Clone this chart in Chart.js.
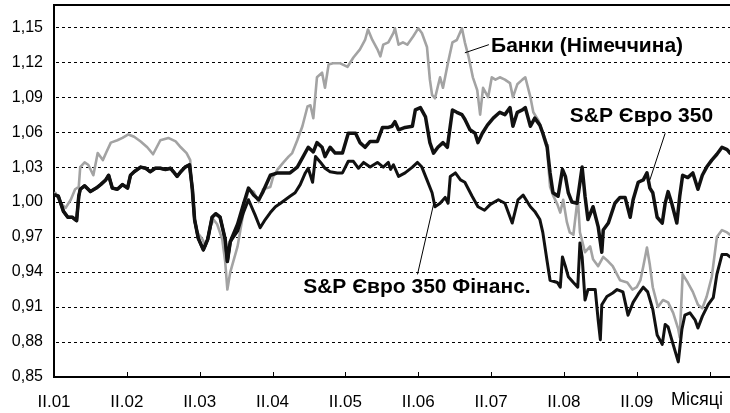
<!DOCTYPE html>
<html>
<head>
<meta charset="utf-8">
<script src="https://cdn.jsdelivr.net/npm/chart.js@4.4.1/dist/chart.umd.min.js"></script>
<style>
  html, body { margin: 0; padding: 0; background: #fff; }
  #wrap { width: 730px; height: 413px; position: relative; }
</style>
</head>
<body>
<div id="wrap"><canvas id="chart"></canvas></div>
<script>
// x = years since II.01, y = index level
var xTickLabels = ["II.01","II.02","II.03","II.04","II.05","II.06","II.07","II.08","II.09"];
var xAxisTitle = "Місяці";
var yTickValues = [0.85,0.88,0.91,0.94,0.97,1.00,1.03,1.06,1.09,1.12,1.15];

// both black lines move together until spring 2003
var sharedX = [0.02,0.06,0.13,0.19,0.25,0.31,0.34,0.36,0.42,0.50,0.58,0.64,0.71,0.75,0.80,0.87,0.94,1.01,1.05,1.10,1.19,1.26,1.32,1.39,1.46,1.53,1.60,1.64,1.69,1.74,1.80,1.86,1.90,1.93,1.98,2.05,2.11,2.17,2.22,2.28,2.35,2.38,2.42];
var sharedY = [1.006,1.005,0.992,0.987,0.987,0.984,1.005,1.011,1.014,1.009,1.012,1.015,1.019,1.023,1.012,1.011,1.015,1.012,1.023,1.026,1.030,1.029,1.026,1.029,1.029,1.028,1.029,1.026,1.022,1.026,1.030,1.032,1.011,0.985,0.969,0.959,0.968,0.987,0.990,0.987,0.968,0.949,0.966];

var spX = [2.52,2.60,2.67,2.74,2.81,2.87,2.97,3.07,3.18,3.24,3.34,3.42,3.49,3.56,3.61,3.68,3.72,3.79,3.86,3.96,4.04,4.14,4.20,4.27,4.34,4.44,4.51,4.59,4.64,4.68,4.73,4.82,4.92,4.96,5.03,5.10,5.16,5.21,5.27,5.34,5.40,5.47,5.53,5.60,5.64,5.71,5.78,5.82,5.88,5.95,6.03,6.12,6.19,6.26,6.30,6.36,6.43,6.47,6.54,6.60,6.67,6.71,6.77,6.81,6.85,6.92,6.98,7.02,7.06,7.11,7.18,7.25,7.29,7.33,7.40,7.47,7.52,7.54,7.61,7.70,7.77,7.84,7.91,7.95,8.02,8.09,8.14,8.18,8.22,8.28,8.35,8.39,8.43,8.48,8.55,8.59,8.63,8.70,8.77,8.84,8.90,8.96,9.03,9.10,9.17,9.24,9.28];
var spY = [0.981,0.998,1.012,1.006,1.002,1.009,1.023,1.025,1.025,1.025,1.030,1.039,1.047,1.043,1.051,1.047,1.039,1.047,1.042,1.042,1.059,1.059,1.051,1.047,1.052,1.052,1.064,1.064,1.065,1.069,1.062,1.064,1.065,1.079,1.081,1.073,1.051,1.042,1.047,1.051,1.047,1.079,1.077,1.075,1.071,1.062,1.059,1.051,1.059,1.066,1.072,1.077,1.075,1.081,1.065,1.077,1.079,1.081,1.065,1.072,1.066,1.059,1.047,1.025,1.008,1.005,1.028,1.022,1.008,1.000,0.999,1.030,1.005,0.985,0.996,0.979,0.957,0.976,0.982,0.999,1.004,1.004,0.987,1.002,1.017,1.019,1.025,1.012,1.008,0.987,0.982,0.999,1.009,0.999,0.982,1.005,1.023,1.021,1.025,1.011,1.023,1.030,1.036,1.041,1.047,1.045,1.042];

var finX = [2.52,2.60,2.67,2.76,2.83,2.90,2.97,3.04,3.11,3.24,3.31,3.38,3.45,3.49,3.55,3.59,3.66,3.72,3.79,3.89,3.96,4.04,4.11,4.18,4.25,4.34,4.44,4.52,4.59,4.62,4.66,4.73,4.82,4.92,4.99,5.05,5.12,5.19,5.23,5.30,5.37,5.41,5.44,5.51,5.58,5.64,5.74,5.82,5.91,5.99,6.10,6.19,6.29,6.37,6.44,6.54,6.60,6.67,6.71,6.77,6.81,6.91,6.95,6.98,7.02,7.06,7.13,7.19,7.22,7.25,7.29,7.33,7.43,7.47,7.50,7.52,7.59,7.67,7.73,7.81,7.88,7.95,8.02,8.09,8.15,8.22,8.28,8.35,8.39,8.43,8.48,8.57,8.62,8.66,8.73,8.80,8.84,8.90,8.98,9.05,9.10,9.17,9.24,9.28];
var finY = [0.975,0.991,1.002,0.989,0.978,0.985,0.991,0.996,0.999,1.005,1.008,1.015,1.025,1.029,1.017,1.039,1.034,1.029,1.026,1.025,1.025,1.035,1.035,1.029,1.034,1.030,1.034,1.030,1.034,1.028,1.032,1.022,1.025,1.030,1.034,1.030,1.019,1.008,0.996,0.999,1.004,0.999,1.022,1.025,1.019,1.017,1.005,0.996,0.993,0.998,1.002,0.999,0.982,1.002,1.006,0.996,0.992,0.985,0.974,0.949,0.933,0.931,0.927,0.953,0.945,0.936,0.931,0.927,0.965,0.953,0.916,0.925,0.925,0.899,0.882,0.912,0.919,0.922,0.925,0.923,0.903,0.914,0.921,0.927,0.923,0.908,0.886,0.878,0.895,0.893,0.882,0.863,0.891,0.903,0.905,0.899,0.892,0.902,0.912,0.918,0.938,0.955,0.955,0.953];

var bankX = [0.02,0.09,0.16,0.23,0.29,0.34,0.36,0.42,0.47,0.54,0.60,0.67,0.72,0.78,0.87,0.94,1.02,1.10,1.19,1.28,1.36,1.46,1.57,1.67,1.74,1.82,1.87,1.90,1.93,1.97,2.04,2.08,2.15,2.19,2.24,2.31,2.35,2.38,2.42,2.52,2.60,2.67,2.74,2.81,2.87,2.97,3.01,3.07,3.15,3.22,3.27,3.34,3.41,3.48,3.52,3.56,3.61,3.68,3.72,3.77,3.83,3.93,4.03,4.11,4.20,4.27,4.31,4.37,4.44,4.48,4.52,4.59,4.66,4.68,4.73,4.79,4.85,4.93,5.00,5.05,5.12,5.16,5.19,5.23,5.30,5.34,5.41,5.47,5.53,5.60,5.64,5.69,5.75,5.81,5.85,5.89,5.96,6.01,6.06,6.12,6.19,6.26,6.30,6.36,6.43,6.47,6.54,6.58,6.65,6.71,6.77,6.78,6.81,6.85,6.91,6.95,6.99,7.04,7.08,7.13,7.19,7.22,7.29,7.36,7.40,7.47,7.54,7.61,7.67,7.77,7.87,7.94,8.00,8.05,8.09,8.14,8.18,8.22,8.29,8.36,8.43,8.50,8.57,8.59,8.63,8.70,8.77,8.84,8.90,8.96,9.03,9.10,9.17,9.24,9.28];
var bankY = [1.008,0.999,0.995,1.002,1.011,1.013,1.030,1.034,1.032,1.023,1.042,1.036,1.043,1.051,1.053,1.055,1.058,1.056,1.052,1.047,1.041,1.053,1.055,1.052,1.047,1.042,1.036,1.002,0.983,0.974,0.968,0.962,0.979,0.985,0.981,0.968,0.949,0.925,0.940,0.962,0.991,1.011,1.009,1.000,1.011,1.013,1.022,1.028,1.034,1.039,1.042,1.053,1.065,1.082,1.083,1.072,1.107,1.111,1.098,1.118,1.119,1.119,1.116,1.124,1.131,1.139,1.148,1.139,1.131,1.125,1.135,1.137,1.145,1.149,1.135,1.137,1.135,1.142,1.149,1.145,1.133,1.105,1.092,1.089,1.107,1.098,1.120,1.137,1.139,1.149,1.137,1.125,1.107,1.096,1.075,1.098,1.090,1.107,1.105,1.107,1.105,1.102,1.090,1.101,1.105,1.107,1.090,1.077,1.070,1.060,1.049,1.036,1.013,1.006,0.998,0.991,1.002,0.983,0.974,0.972,1.004,0.974,0.957,0.962,0.951,0.945,0.953,0.949,0.945,0.933,0.931,0.925,0.927,0.933,0.945,0.961,0.946,0.927,0.910,0.916,0.914,0.905,0.891,0.884,0.938,0.931,0.923,0.912,0.909,0.919,0.936,0.970,0.976,0.974,0.972];

var seriesNames = ["S&P Євро 350", "S&P Євро 350 Фінанс.", "Банки (Німеччина)"];

function pts(xs, ys) {
    return xs.map(function (x, i) { return { x: x, y: ys[i] }; });
}

// where the labels and their leader lines sit, in chart units
var notes = [
    { text: seriesNames[2], x: 6.00, y: 1.134, from: [5.64, 1.128], to: [5.97, 1.135] },
    { text: seriesNames[0], x: 7.08, y: 1.074, from: [8.39, 1.059], to: [8.18, 1.019] },
    { text: seriesNames[1], x: 3.42, y: 0.927, from: [4.99, 0.938], to: [5.21, 0.998] }
];

var FONT = "'Liberation Sans', Arial, sans-serif";

var extras = {
    id: "extras",
    beforeDatasetsDraw: function (chart) {
        var ctx = chart.ctx, a = chart.chartArea, ys = chart.scales.y;
        ctx.save();
        ctx.strokeStyle = "#000";
        ctx.lineWidth = 1;
        ctx.setLineDash([3, 3]);
        yTickValues.forEach(function (v, i) {
            if (i === 0) return;
            var py = Math.round(ys.getPixelForValue(v)) + 0.5;
            ctx.beginPath();
            ctx.moveTo(a.left + 2, py);
            ctx.lineTo(a.right, py);
            ctx.stroke();
        });
        ctx.restore();
    },
    afterDraw: function (chart) {
        var ctx = chart.ctx, a = chart.chartArea;
        var xs = chart.scales.x, ys = chart.scales.y;
        ctx.save();
        // top frame line
        ctx.strokeStyle = "#000";
        ctx.lineWidth = 2;
        ctx.beginPath();
        ctx.moveTo(a.left, a.top);
        ctx.lineTo(a.right, a.top);
        ctx.stroke();
        // inner tick marks on the time axis
        ctx.lineWidth = 1;
        for (var i = 1; i <= xTickLabels.length; i++) {
            var px = Math.round(xs.getPixelForValue(i)) + 0.5;
            ctx.beginPath();
            ctx.moveTo(px, a.bottom);
            ctx.lineTo(px, a.bottom - 5);
            ctx.stroke();
        }
        // leader lines and labels
        ctx.fillStyle = "#000";
        ctx.font = "bold 21px " + FONT;
        ctx.textBaseline = "middle";
        ctx.textAlign = "left";
        notes.forEach(function (n) {
            ctx.beginPath();
            ctx.moveTo(xs.getPixelForValue(n.from[0]), ys.getPixelForValue(n.from[1]));
            ctx.lineTo(xs.getPixelForValue(n.to[0]), ys.getPixelForValue(n.to[1]));
            ctx.stroke();
            ctx.fillText(n.text, xs.getPixelForValue(n.x), ys.getPixelForValue(n.y));
        });
        // axis caption
        ctx.font = "18px " + FONT;
        ctx.fillText(xAxisTitle, 671, 400);
        ctx.restore();
    }
};

var canvas = document.getElementById("chart");
var config = {
    type: "line",
    data: {
        datasets: [
            { label: seriesNames[0], data: pts(sharedX.concat(spX), sharedY.concat(spY)),
              borderColor: "#111", borderWidth: 3.5 },
            { label: seriesNames[1], data: pts(sharedX.concat(finX), sharedY.concat(finY)),
              borderColor: "#111", borderWidth: 3 },
            { label: seriesNames[2], data: pts(bankX, bankY),
              borderColor: "#a3a3a3", borderWidth: 2.6 }
        ]
    },
    options: {
        animation: false,
        responsive: false,
        devicePixelRatio: 1,
        layout: { padding: { top: 5, right: 0, left: 0, bottom: 0 } },
        elements: {
            point: { radius: 0 },
            line: { tension: 0, borderJoinStyle: "round", borderCapStyle: "round" }
        },
        plugins: { legend: { display: false }, tooltip: { enabled: false } },
        scales: {
            x: {
                type: "linear",
                min: 0, max: 9.28,
                afterBuildTicks: function (s) {
                    var t = [];
                    for (var i = 0; i <= xTickLabels.length; i++) t.push({ value: i });
                    s.ticks = t;
                },
                afterFit: function (s) { s.height = 36; s.paddingLeft = 0; s.paddingRight = 0; },
                ticks: {
                    autoSkip: false, maxRotation: 0, padding: 7, color: "#000",
                    font: { family: FONT, size: 17 },
                    callback: function (v) { return xTickLabels[v] || ""; }
                },
                grid: { display: false },
                border: { display: true, color: "#000", width: 2 }
            },
            y: {
                min: 0.85, max: 1.169,
                afterBuildTicks: function (s) {
                    s.ticks = yTickValues.map(function (v) { return { value: v }; });
                },
                afterFit: function (s) { s.width = 54; s.paddingTop = 0; s.paddingBottom = 0; },
                ticks: {
                    padding: 11, color: "#000",
                    font: { family: FONT, size: 16 },
                    callback: function (v) { return v.toFixed(2).replace(".", ","); }
                },
                grid: { display: false, drawTicks: false },
                border: { display: true, color: "#000", width: 2 }
            }
        }
    },
    plugins: [extras]
};

canvas.width = 730;
canvas.height = 413;
var lineChart = new Chart(canvas, config);
</script>
</body>
</html>
